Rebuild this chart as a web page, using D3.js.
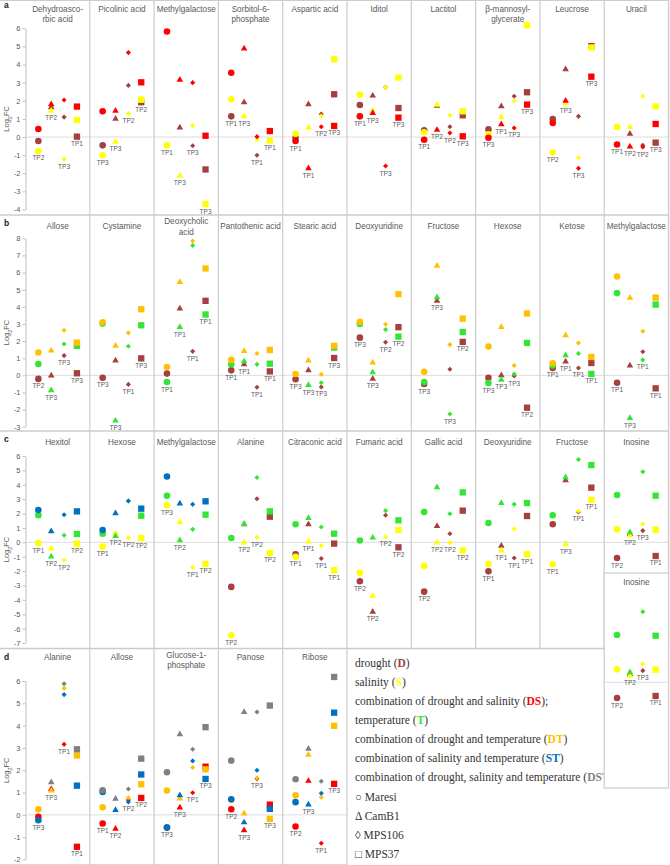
<!DOCTYPE html>
<html>
<head>
<meta charset="utf-8">
<script src="https://cdn.jsdelivr.net/npm/d3@7"></script>
<style>
body { margin: 0; background: #fff; }
svg text { font-family: "Liberation Sans", Arial, sans-serif; }
</style>
</head>
<body>
<svg id="chart" width="670" height="865"></svg>
<script>
// shape order inside every column: circle, triangle, diamond, square
var shapes = ["Maresi", "CamB1", "MPS106", "MPS37"];

var colors = {D: "#a5403e", S: "#ffff00", DS: "#ff0000", T: "#33e633",
              DT: "#ffc000", ST: "#0070c0", DST: "#808080"};

// ---- panel a : drought, salinity, drought+salinity
var aCols = ["Dehydroasco-\nrbic acid", "Picolinic acid", "Methylgalactose", "Sorbitol-6-\nphosphate",
             "Aspartic acid", "Iditol", "Lactitol", "β-mannosyl-\nglycerate", "Leucrose", "Uracil"];
var aTicks = [-4, -3, -2, -1, 0, 1, 2, 3, 4, 5, 6];
var aD = [[-0.22, 1.64, 1.1, 0.02], [-0.46, 1.01, 2.85, 1.92], [null, 0.52, -0.48, -1.79], [1.14, 1.92, -1.01, null],
          [-0.04, 1.8, 1.27, 2.36], [1.77, 2.28, 2.74, 1.6], [0.37, 1.72, 0.57, 1.2], [0.42, 1.69, 2.25, 2.47],
          [0.99, 3.74, 1.14, 5.02], [null, 0.17, -0.46, -0.31]];
var aS = [[-0.77, 1.45, -1.22, 0.94], [-1.01, -0.26, 1.29, 2.06], [-0.46, -2.14, 0.63, -3.7], [2.08, 1.14, -0.13, -0.2],
          [0.18, 0.52, 1.16, 4.29], [2.34, 1.45, 2.74, 3.28], [0.26, 1.77, 1.2, 1.42], [0.15, 1.09, 1.99, 6.17],
          [-0.85, 1.86, -1.14, 4.94], [0.55, 0.55, 2.25, 1.69]];
var aDS = [[0.44, 1.8, 2.04, 1.68], [1.42, 1.44, 4.66, 3.02], [5.82, 3.15, 3.0, 0.07], [3.55, 4.88, 0.02, 0.33],
           [-0.22, -1.73, 0.57, 0.61], [1.14, 1.32, -1.6, 1.07], [-0.15, 0.39, 0.22, 0.04], [-0.04, 0.7, 0.5, 1.79],
           [0.77, 2.0, -1.73, 3.33], [-0.41, -0.53, -0.55, 0.72]];
var aLabels = [["TP2", "TP2", "TP3", "TP1"], ["TP3", "TP3", "TP2", "TP2"], ["TP1", "TP3", "TP3", "TP3"], ["TP1", "TP3", "TP1", "TP1"],
               ["TP1", "TP1", "TP2", "TP3"], ["TP1", "TP3", "TP3", "TP3"], ["TP1", "TP2", "TP2", "TP3"], ["TP3", "TP1", "TP3", "TP3"],
               ["TP2", "TP3", "TP3", "TP3"], ["TP1", "TP2", "TP2", "TP3"]];

// ---- panel b : drought, temperature, drought+temperature
var bCols = ["Allose", "Cystamine", "Deoxycholic\nacid", "Pantothenic acid", "Stearic acid",
             "Deoxyuridine", "Fructose", "Hexose", "Ketose", "Methylgalactose"];
var bTicks = [-3, -2, -1, 0, 1, 2, 3, 4, 5, 6, 7, 8];
var bD = [[-0.21, -0.02, 1.15, 0.12], [-0.14, 0.86, -0.53, 0.99], [0.1, 3.9, 1.4, 4.35], [0.29, 0.64, -0.7, 0.23],
          [-0.23, 0.29, -0.68, 1.01], [2.2, -0.21, 1.93, 2.81], [-0.51, 4.35, 0.35, 1.95], [-0.14, 0.0, -0.04, -1.89],
          [0.43, 0.8, 0.43, 0.72], [-0.43, 0.57, 1.38, -0.76]];
var bT = [[0.66, -0.88, 1.83, 1.72], [3.02, -2.65, 1.7, 2.92], [-0.39, 2.81, 7.58, 3.55], [0.64, 0.82, 0.64, 0.68],
          [null, -0.57, -0.43, 1.62], [3.0, 0.18, 2.67, 2.26], [-0.39, 4.56, -2.26, 2.53], [-0.45, -0.27, 0.08, 1.89],
          [0.57, 1.17, 1.27, 0.08], [4.8, -2.5, 0.9, 4.13]];
var bDT = [[1.33, 1.44, 2.63, 1.91], [3.1, 1.72, 2.48, 3.86], [0.49, 5.44, 7.84, 6.24], [0.9, 1.42, 1.27, 1.48],
           [0.08, 0.86, 0.06, 1.72], [3.12, 0.74, 2.98, 4.74], [0.21, 6.39, 1.79, 3.31], [1.68, 2.81, 0.57, 3.61],
           [0.7, 2.34, 1.89, 1.07], [5.77, 4.52, 2.57, 4.54]];
var bLabels = [["TP2", "TP3", "TP3", "TP3"], ["TP3", "TP3", "TP1", "TP3"], ["TP1", "TP1", "TP1", "TP1"], ["TP1", "TP1", "TP1", "TP1"],
               ["TP3", "TP3", "TP3", "TP3"], ["TP3", "TP3", "TP2", "TP2"], ["TP3", "TP3", "TP3", "TP2"], ["TP3", "TP3", "TP3", "TP2"],
               ["TP1", "TP1", "TP1", "TP1"], ["TP1", "TP3", "TP1", "TP1"]];

// ---- panel c : drought, salinity, temperature, salinity+temperature
var cCols = ["Hexitol", "Hexose", "Methylgalactose", "Alanine", "Citraconic acid",
             "Fumaric acid", "Gallic acid", "Deoxyuridine", "Fructose", "Inosine"];
var cTicks = [-7, -6, -5, -4, -3, -2, -1, 0, 1, 2, 3, 4, 5, 6];
var cD = [[null, null, null, null], [null, null, null, null], [null, null, null, null],
          [-3.1, 1.25, 3.03, 1.78], [-0.83, 1.25, -1.13, -0.09], [-2.71, -4.84, 1.88, -0.35], [-3.43, 1.13, 0.6, 2.2],
          [-2.01, -0.25, -1.09, 1.83], [1.25, 4.31, 2.11, 3.8], [-1.09, 0.58, 0.81, -0.95]];
var cS = [[-0.05, -0.44, -1.23, -0.09], [-0.3, 0.6, 0.32, 0.3], [2.57, 1.41, -1.74, -1.5], [-6.46, -0.02, 0.35, -0.74],
          [-1.0, 0.05, -0.23, -1.94], [-2.11, -3.73, 0.39, 0.86], [-1.64, -0.02, -0.02, -0.56], [-1.5, -0.58, 0.93, -0.83],
          [-1.53, -0.12, 2.18, 2.96], [0.9, 0.46, 1.27, 0.88]];
var cT = [[1.88, -1.0, 0.49, 0.58], [0.6, 0.44, 2.87, 1.85], [3.24, 0.14, 0.9, 1.92], [0.3, 1.27, 4.51, 2.15],
          [1.25, 1.69, 1.06, 0.6], [0.12, 0.32, 2.2, 1.53], [2.11, 3.82, 1.99, 3.47], [1.34, 2.73, 2.64, 2.73],
          [1.88, 4.51, 5.76, 5.37], [3.29, 0.69, 4.91, 3.24]];
var cST = [[2.25, 0.76, 1.92, 2.15], [0.86, 2.01, 2.87, 2.34], [4.58, 2.69, 2.64, 2.85],
           [null, null, null, null], [null, null, null, null], [null, null, null, null], [null, null, null, null],
           [null, null, null, null], [null, null, null, null], [null, null, null, null]];
var cLabels = [["TP1", "TP2", "TP2", "TP2"], ["TP1", "TP2", "TP2", "TP2"], ["TP3", "TP2", "TP1", "TP2"], ["TP2", "TP2", "TP2", "TP2"],
               ["TP1", "TP1", "TP1", "TP1"], ["TP2", "TP2", "TP2", "TP2"], ["TP2", "TP2", "TP2", "TP2"], ["TP1", "TP1", "TP1", "TP1"],
               ["TP1", "TP3", "TP1", "TP1"], ["TP2", "TP2", "TP3", "TP1"]];

// ---- panel d : the combined stresses
var dCols = ["Alanine", "Allose", "Glucose-1-\nphosphate", "Panose", "Ribose"];
var dTicks = [-2, -1, 0, 1, 2, 3, 4, 5, 6];
var dDS = [[-0.09, 1.16, 3.16, -1.43], [-0.39, -0.63, 0.67, 0.76], [-0.57, 0.33, 0.99, 2.16],
           [0.25, -0.69, 1.62, 0.46], [-0.52, 1.52, -1.27, 1.39]];
var dDT = [[0.25, 1.09, 5.67, 2.66], [0.34, null, 0.76, 1.37], [1.09, 0.73, 2.12, 2.04],
           [0.68, 0.06, 1.65, -0.18], [0.88, 2.69, 0.79, 3.99]];
var dST = [[-0.24, null, 5.39, 1.31], [1.03, 0.21, 0.58, 1.81], [-0.57, 0.88, 2.42, 1.61],
           [0.7, -0.34, 2.0, 0.27], [0.57, 0.46, 0.97, 4.58]];
var dDST = [[null, 1.46, 5.88, 2.94], [1.1, 0.72, 1.16, 2.52], [1.91, 3.61, 2.94, 3.93],
            [2.43, 4.61, 4.61, 4.9], [1.6, 2.96, 1.51, 6.18]];
var dLabels = [["TP3", "TP3", "TP1", "TP1"], ["TP1", "TP2", "TP2", "TP2"], ["TP3", "TP3", "TP1", "TP3"],
               ["TP2", "TP3", "TP3", "TP3"], ["TP2", "TP3", "TP1", "TP3"]];

var legendLines = [
  ["drought (", "D", ")", "D"],
  ["salinity (", "S", ")", "S"],
  ["combination of drought and salinity (", "DS", ");", "DS"],
  ["temperature (", "T", ")", "T"],
  ["combination of drought and temperature (", "DT", ")", "DT"],
  ["combination of salinity and temperature (", "ST", ")", "ST"],
  ["combination of drought, salinity and temperature (", "DST", ")", "DST"]
];
var legendShapes = ["○ Maresi", "Δ CamB1", "◊ MPS106", "□ MPS37"];

var panels = [
  {id: "a", top: 0, bottom: 215, titleY: 9.5, wrapUp: 0, yTop: 28.3, yBot: 209.5, ticks: aTicks, cols: aCols,
   series: [["D", aD], ["S", aS], ["DS", aDS]], labels: aLabels},
  {id: "b", top: 215, bottom: 431, titleY: 227.3, wrapUp: 5.5, yTop: 238.3, yBot: 426.7, ticks: bTicks, cols: bCols,
   series: [["D", bD], ["T", bT], ["DT", bDT]], labels: bLabels},
  {id: "c", top: 431, bottom: 648.5, titleY: 442.7, wrapUp: 0, yTop: 456, yBot: 643, ticks: cTicks, cols: cCols,
   series: [["D", cD], ["S", cS], ["T", cT], ["ST", cST]], labels: cLabels},
  {id: "d", top: 648.5, bottom: 865, titleY: 658.3, wrapUp: 2.6, yTop: 681, yBot: 859.5, ticks: dTicks, cols: dCols,
   series: [["DS", dDS], ["DT", dDT], ["ST", dST], ["DST", dDST]], labels: dLabels}
];

var svg = d3.select("#chart");
var gridColor = "#cccccc", textColor = "#595959";

var x = d3.scaleBand().domain(d3.range(10)).range([25.5, 668.5]);
var inner = d3.scalePoint().domain(shapes).range([0, x.bandwidth()]).padding(1);

var symbols = [
  d3.symbol().type(d3.symbolCircle).size(34),
  d3.symbol().type(d3.symbolTriangle).size(19),
  d3.symbol().type(d3.symbolSquare).size(13),
  d3.symbol().type(d3.symbolSquare).size(40)
];

function flatPoints(p, ci) {
  var pts = [];
  p.series.forEach(function(s) {
    s[1][ci].forEach(function(v, si) {
      if (v != null) pts.push({ci: ci, si: si, key: s[0], v: v});
    });
  });
  return pts;
}

function drawColumn(g, p, ci, y) {
  var cx0 = x(ci);
  // title
  var lines = p.cols[ci].split("\n");
  var t = g.append("text")
    .attr("x", cx0 + x.bandwidth() / 2)
    .attr("y", p.titleY - (lines.length > 1 ? p.wrapUp : 0))
    .attr("text-anchor", "middle")
    .attr("dominant-baseline", "middle")
    .attr("fill", textColor)
    .style("font-size", "8.2px");
  lines.forEach(function(l, i) {
    t.append("tspan").attr("x", cx0 + x.bandwidth() / 2).attr("dy", i ? 10.7 : 0).text(l);
  });

  var pts = flatPoints(p, ci);
  g.selectAll(null)
    .data(pts)
    .join("path")
      .attr("d", function(d) { return symbols[d.si](); })
      .attr("transform", function(d) {
        return "translate(" + (cx0 + inner(shapes[d.si])) + "," + y(d.v) + ")" + (d.si == 2 ? " rotate(45)" : "");
      })
      .attr("fill", function(d) { return colors[d.key]; });

  // time point label under the lowest marker of each group
  shapes.forEach(function(sh, si) {
    var grp = pts.filter(function(d) { return d.si == si; });
    if (!grp.length || !p.labels[ci][si]) return;
    g.append("text")
      .attr("x", cx0 + inner(sh))
      .attr("y", y(d3.min(grp, function(d) { return d.v; })) + 7.8)
      .attr("text-anchor", "middle")
      .attr("dominant-baseline", "middle")
      .attr("fill", textColor)
      .style("font-size", "6.5px")
      .text(p.labels[ci][si]);
  });
}

panels.forEach(function(p) {
  var g = svg.append("g").attr("class", "panel-" + p.id);
  var n = p.cols.length;
  var right = x(n - 1) + x.bandwidth();
  var dom = d3.extent(p.ticks);
  var y = d3.scaleLinear().domain([dom[1], dom[0]]).range([p.yTop, p.yBot]);
  p.y = y;

  // zero line
  g.append("line")
    .attr("x1", 25.5).attr("x2", right)
    .attr("y1", y(0)).attr("y2", y(0))
    .attr("stroke", "#dcdcdc");

  // column separators
  g.selectAll(null)
    .data(d3.range(n))
    .join("line")
      .attr("x1", function(i) { return x(i) + x.bandwidth(); })
      .attr("x2", function(i) { return x(i) + x.bandwidth(); })
      .attr("y1", p.top).attr("y2", p.bottom)
      .attr("stroke", gridColor).attr("stroke-width", 1.2);

  // bottom frame line
  g.append("line")
    .attr("x1", 0).attr("x2", p.id == "d" ? right : 669)
    .attr("y1", p.bottom).attr("y2", p.bottom)
    .attr("stroke", gridColor).attr("stroke-width", 1.6);

  // axis
  var ax = g.append("g")
    .attr("transform", "translate(25.5,0)")
    .call(d3.axisLeft(y).tickValues(p.ticks).tickSize(3).tickSizeOuter(0).tickFormat(function(d) { return d; }));
  ax.select(".domain").attr("stroke", "#bfbfbf");
  ax.selectAll(".tick line").attr("stroke", "#bfbfbf");
  ax.selectAll(".tick text").attr("fill", textColor).style("font-size", "7.5px")
    .style("font-family", '"Liberation Sans", Arial, sans-serif').attr("x", -5);

  // Log2FC label
  var lab = g.append("text")
    .attr("transform", "translate(9," + y((dom[0] + dom[1]) / 2) + ") rotate(-90)")
    .attr("text-anchor", "middle")
    .attr("fill", textColor)
    .style("font-size", "7.5px");
  lab.append("tspan").text("Log");
  lab.append("tspan").attr("baseline-shift", "sub").style("font-size", "5.5px").text("2");
  lab.append("tspan").text("FC");

  // panel letter
  g.append("text")
    .attr("x", 4).attr("y", p.top + (p.id == "a" ? 6 : 9))
    .attr("dominant-baseline", "middle")
    .attr("font-weight", "bold")
    .attr("fill", "#222")
    .style("font-size", "8.5px")
    .text(p.id);

  d3.range(n).forEach(function(ci) { drawColumn(g, p, ci, y); });
});

// right frame for the full panels
svg.append("line")
  .attr("x1", 668.5).attr("x2", 668.5).attr("y1", 0).attr("y2", 648.5)
  .attr("stroke", gridColor).attr("stroke-width", 1.2);
svg.append("line")
  .attr("x1", 0).attr("x2", 669).attr("y1", 0.5).attr("y2", 0.5)
  .attr("stroke", gridColor);

// legend
var legend = svg.append("g").attr("transform", "translate(355,664)");
legendLines.forEach(function(l, i) {
  var t = legend.append("text")
    .attr("y", i * 19)
    .attr("dominant-baseline", "middle")
    .attr("fill", "#333")
    .style("font-family", '"Liberation Serif", "Times New Roman", serif')
    .style("font-size", "11.5px");
  t.append("tspan").text(l[0]);
  t.append("tspan").attr("font-weight", "bold").attr("fill", colors[l[3]]).text(l[1]);
  t.append("tspan").text(l[2]);
});
legendShapes.forEach(function(s, i) {
  legend.append("text")
    .attr("y", (legendLines.length + i) * 19 + 1)
    .attr("dominant-baseline", "middle")
    .attr("fill", "#333")
    .style("font-family", '"Liberation Serif", "Times New Roman", serif')
    .style("font-size", "11.5px")
    .text(s);
});

// second copy of the Inosine column, shifted down
var pc = panels[2];
var shift = 140;
var yCopy = pc.y.copy().range(pc.y.range().map(function(v) { return v + shift; }));
var box = svg.append("g").attr("class", "inosine-copy");
box.append("rect")
  .attr("x", x(9)).attr("y", 573)
  .attr("width", 668.5 - x(9)).attr("height", 788 - 573)
  .attr("fill", "#fff").attr("stroke", gridColor).attr("stroke-width", 1.2);
box.append("line")
  .attr("x1", x(9)).attr("x2", 668.5)
  .attr("y1", yCopy(0)).attr("y2", yCopy(0))
  .attr("stroke", "#dcdcdc");
drawColumn(box, Object.assign({}, pc, {titleY: pc.titleY + shift}), 9, yCopy);
</script>
</body>
</html>
